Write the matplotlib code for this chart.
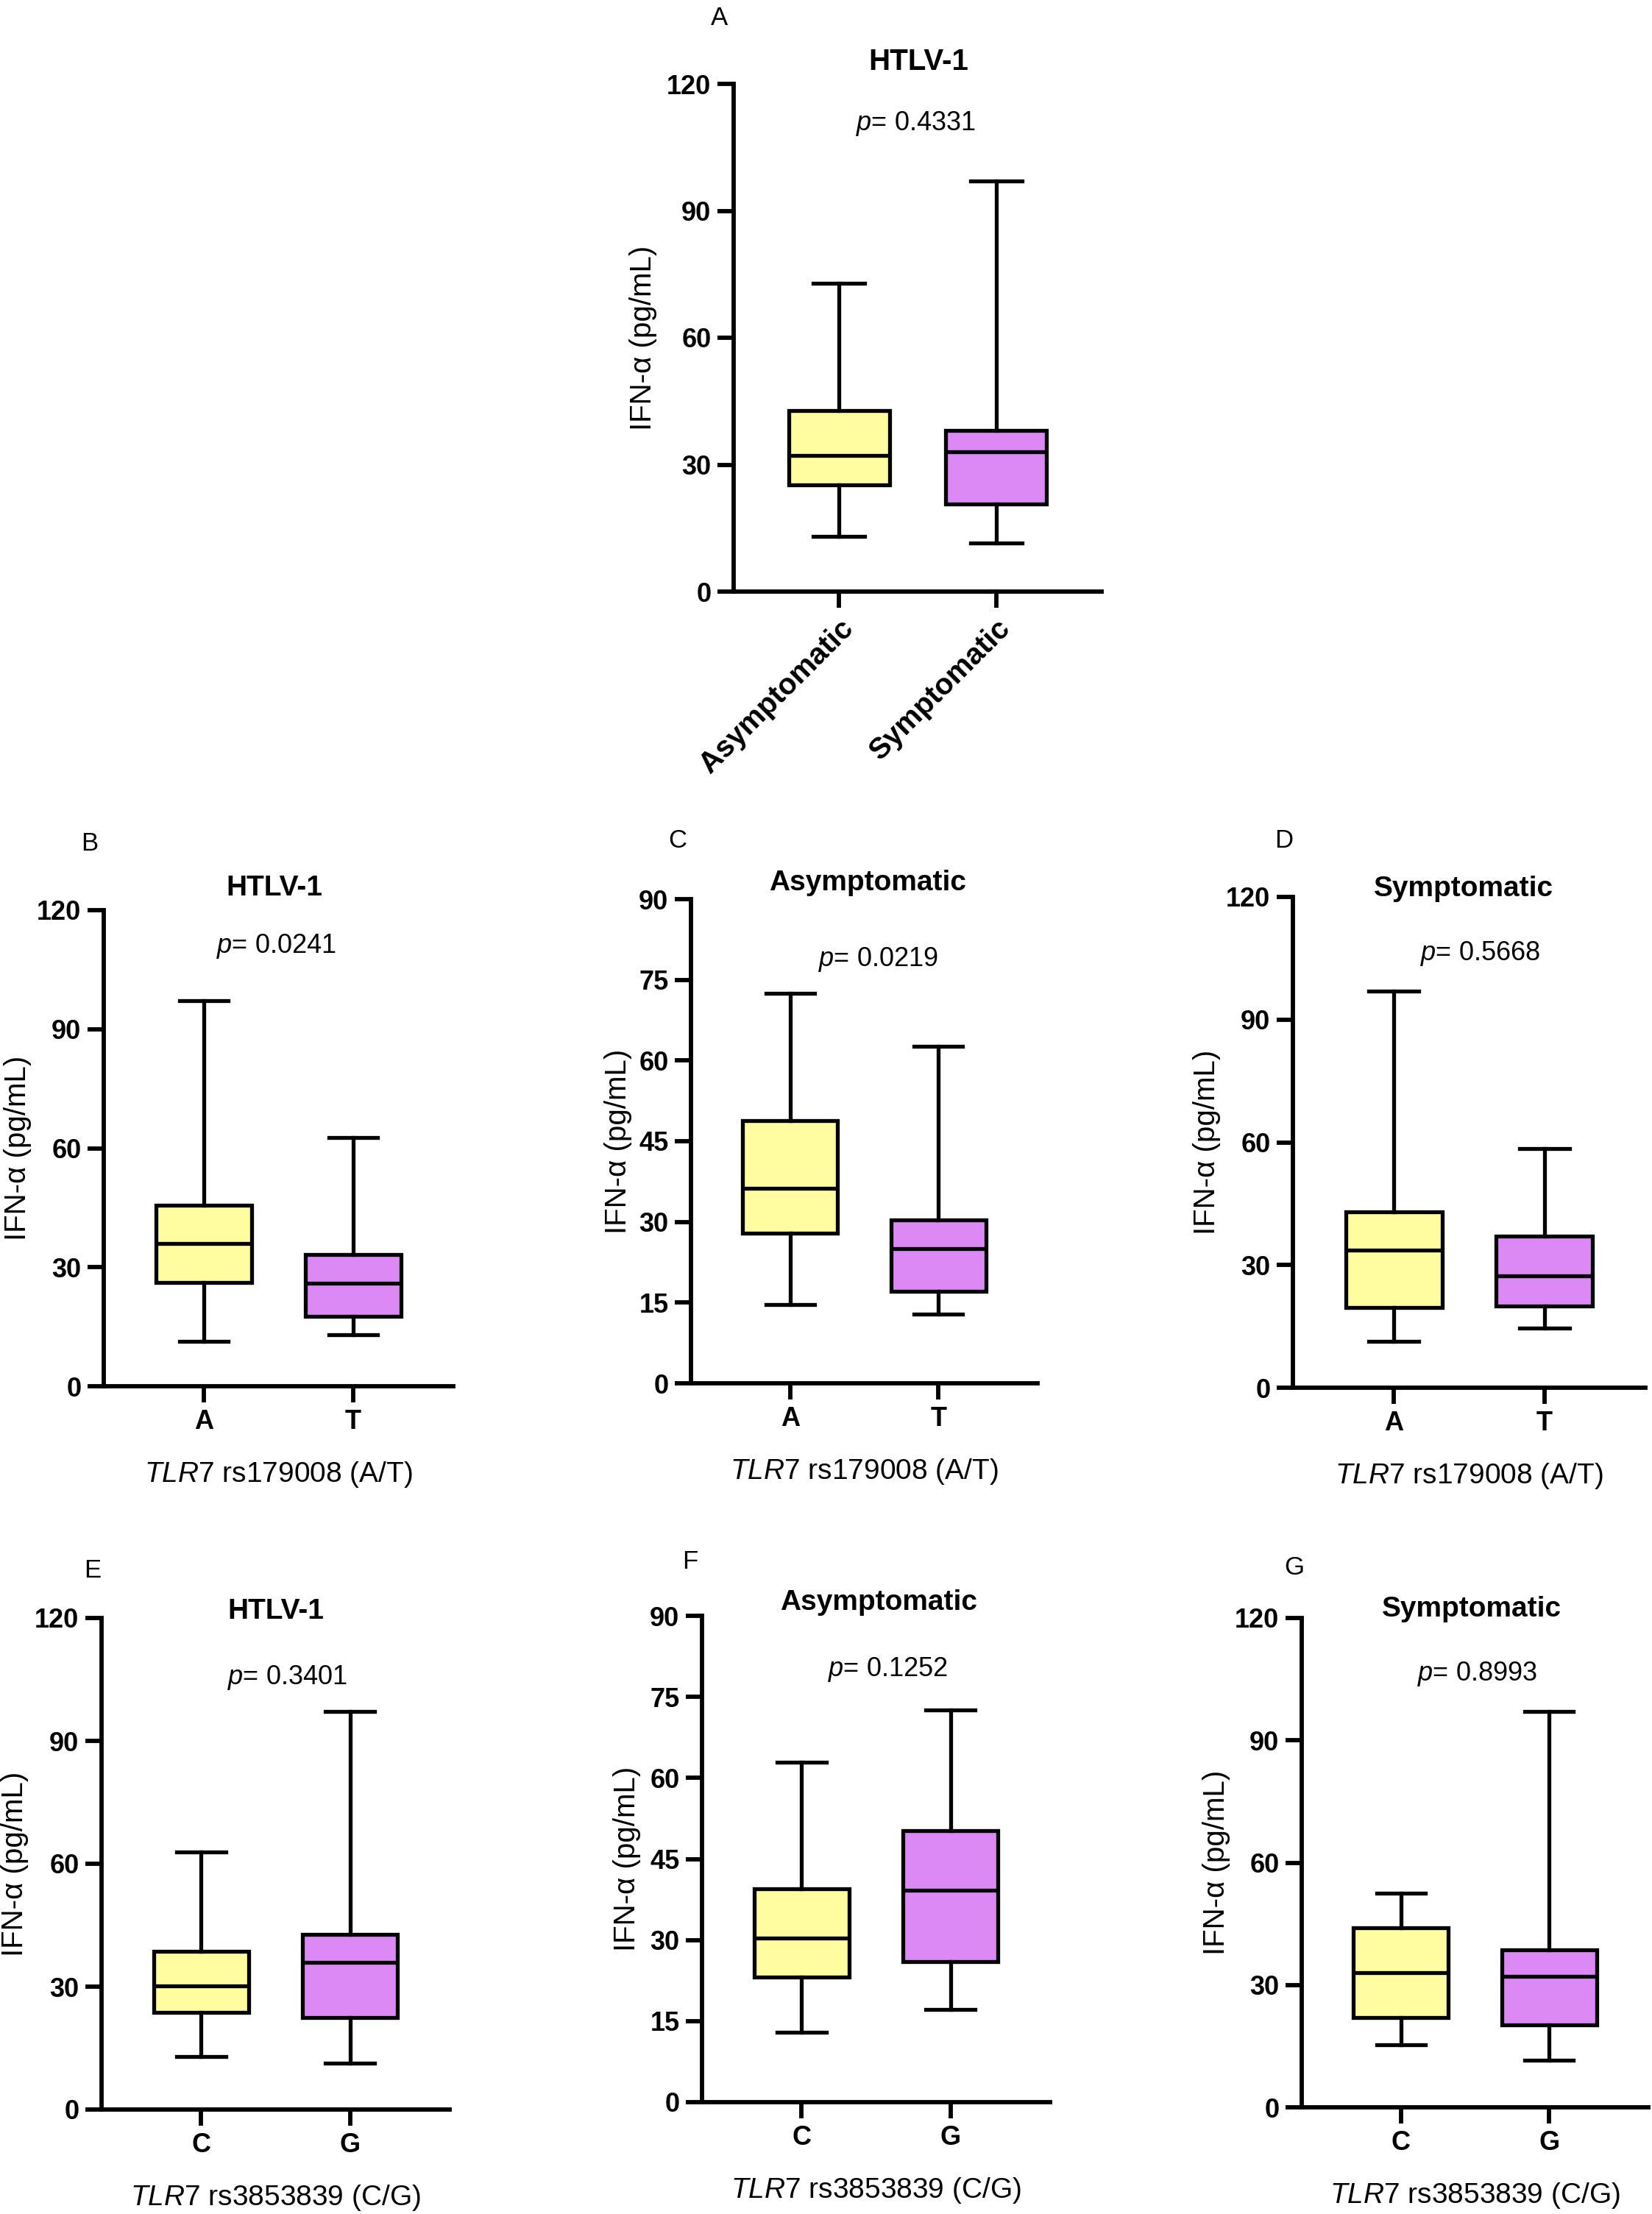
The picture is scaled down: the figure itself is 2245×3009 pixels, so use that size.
import matplotlib
matplotlib.use('Agg')
import matplotlib.pyplot as plt

plt.rcParams['font.family'] = ['Liberation Sans', 'DejaVu Sans']
plt.rcParams['mathtext.fontset'] = 'custom'
plt.rcParams['mathtext.it'] = 'Liberation Sans:italic'
plt.rcParams['mathtext.rm'] = 'Liberation Sans'

W, H = 2245, 3009

# values
panels = ['A', 'B', 'C', 'D', 'E', 'F', 'G']
titles = ['HTLV-1', 'HTLV-1', 'Asymptomatic', 'Symptomatic', 'HTLV-1', 'Asymptomatic', 'Symptomatic']
p_vals = ['0.4331', '0.0241', '0.0219', '0.5668', '0.3401', '0.1252', '0.8993']
groups = [['Asymptomatic', 'Symptomatic'], ['A', 'T'], ['A', 'T'], ['A', 'T'],
          ['C', 'G'], ['C', 'G'], ['C', 'G']]
snps = [None, 'rs179008 (A/T)', 'rs179008 (A/T)', 'rs179008 (A/T)',
        'rs3853839 (C/G)', 'rs3853839 (C/G)', 'rs3853839 (C/G)']
y_max = [120, 120, 90, 120, 120, 90, 120]
y_step = [30, 30, 15, 30, 30, 15, 30]

whis_lo = [[13.1, 11.4], [11.3, 12.9], [14.6, 12.8], [11.3, 14.6], [13.0, 11.4], [13.0, 17.2], [15.3, 11.5]]
q1 = [[25.2, 20.7], [26.2, 17.7], [27.9, 17.1], [19.7, 19.9], [23.7, 22.4], [23.1, 26.0], [22.0, 20.3]]
med = [[32.2, 33.1], [36.0, 25.9], [36.3, 25.0], [33.6, 27.4], [30.2, 36.0], [30.3, 39.2], [33.0, 32.1]]
q3 = [[42.7, 38.1], [45.6, 33.2], [48.8, 30.3], [43.0, 37.0], [38.7, 42.7], [39.5, 50.3], [44.0, 38.6]]
whis_hi = [[72.8, 97.1], [97.1, 62.7], [72.5, 62.7], [97.0, 58.4], [62.8, 97.2], [62.9, 72.6], [52.5, 97.1]]

colors = ['#FFFDA0', '#DD89F5']

# layout in pixels: left, right, top, bottom of each axes
rects = [(997, 1497, 114, 804), (141, 616, 1237, 1884), (939, 1410, 1222, 1880),
         (1757, 2236, 1219, 1886), (138, 611, 2199, 2867), (954, 1427, 2196, 2857),
         (1769, 2240, 2199, 2864)]
letter_pos = [(977, 24), (122, 1146), (921, 1143), (1745, 1143), (126, 2134), (938, 2122), (1759, 2131)]
title_pos = [(1248, 84), (373, 1207), (1179, 1200), (1989, 1208), (375, 2190), (1194, 2178), (2000, 2187)]
p_pos = [(1244, 168), (375, 1286), (1193, 1304), (2012, 1296), (390, 2280), (1206, 2269), (2007, 2275)]
ylab_x = [-0.246, -0.246, -0.21, -0.244, -0.25, -0.215, -0.246]

fig = plt.figure(figsize=(W / 100, H / 100), dpi=100)


def ftext(x, y, s, **kw):
    fig.text(x / W, 1 - y / H, s, ha='center', va='center', **kw)


for i in range(len(panels)):
    l, r, t, b = rects[i]
    ax = fig.add_axes([l / W, 1 - b / H, (r - l) / W, (b - t) / H])
    stats = []
    for j in range(2):
        stats.append(dict(whislo=whis_lo[i][j], q1=q1[i][j], med=med[i][j],
                          q3=q3[i][j], whishi=whis_hi[i][j], fliers=[]))
    lw = 3.8
    bp = ax.bxp(stats, positions=[0, 1], widths=0.64, capwidths=0.33, patch_artist=True,
                boxprops=dict(linewidth=lw, edgecolor='black'),
                medianprops=dict(linewidth=lw, color='black'),
                whiskerprops=dict(linewidth=lw, color='black'),
                capprops=dict(linewidth=lw, color='black'),
                showfliers=False)
    for patch, c in zip(bp['boxes'], colors):
        patch.set_facecolor(c)

    ax.set_xlim(-0.67, 1.67)
    ax.set_ylim(0, y_max[i])
    ax.set_yticks(range(0, y_max[i] + 1, y_step[i]))
    ax.set_xticks([0, 1])
    for s in ['top', 'right']:
        ax.spines[s].set_visible(False)
    for s in ['left', 'bottom']:
        ax.spines[s].set_linewidth(4.2)
    ax.tick_params(length=16, width=4.2, labelsize=26, pad=6)
    for lab in ax.get_yticklabels():
        lab.set_fontweight('bold')
    if i == 0:
        ax.set_xticklabels(groups[i], rotation=45, ha='right', va='top',
                           rotation_mode='anchor', fontweight='bold', fontsize=29)
    else:
        ax.set_xticklabels(groups[i], fontweight='bold', fontsize=26)
        ax.set_xlabel(r'$\mathit{TLR7}$ ' + snps[i], fontsize=28, va='center')
        ax.xaxis.set_label_coords(0.5, -120 / (b - t))
    ax.set_ylabel('IFN-α (pg/mL)', fontsize=29, va='center')
    ax.yaxis.set_label_coords(ylab_x[i], 0.5)

    ftext(*letter_pos[i], panels[i], fontsize=25)
    ftext(*title_pos[i], titles[i], fontsize=29 if i == 0 else 28, fontweight='bold')
    ftext(*p_pos[i], r'$\mathit{p}$= ' + p_vals[i], fontsize=26)

fig.savefig('out.png', dpi=100)
